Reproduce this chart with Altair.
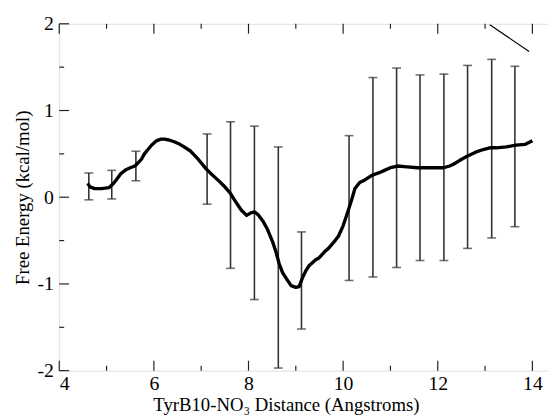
import altair as alt
import pandas as pd

# free-energy profile
curve_x = [4.60, 4.65, 4.75, 4.90, 5.05, 5.15, 5.22, 5.30, 5.39, 5.50, 5.60, 5.67, 5.74, 5.80,
           5.875, 5.95, 6.05, 6.15, 6.22, 6.32, 6.43, 6.55, 6.64, 6.78, 6.95, 7.10, 7.19, 7.35,
           7.50, 7.61, 7.75, 7.85, 7.96, 8.05, 8.13, 8.20, 8.31, 8.40, 8.50, 8.58, 8.65, 8.72,
           8.79, 8.90, 9.00, 9.07, 9.14, 9.21, 9.28, 9.42, 9.49, 9.625, 9.69, 9.83, 9.90, 10.00,
           10.11, 10.18, 10.25, 10.35, 10.46, 10.60, 10.75, 10.875, 11.00, 11.15, 11.35, 11.57,
           11.85, 12.125, 12.25, 12.33, 12.45, 12.61, 12.80, 12.96, 13.10, 13.24, 13.45, 13.65,
           13.85, 14.00]
curve_y = [0.16, 0.12, 0.10, 0.10, 0.11, 0.16, 0.21, 0.27, 0.31, 0.34, 0.36, 0.40, 0.44, 0.50,
           0.55, 0.60, 0.65, 0.67, 0.67, 0.66, 0.64, 0.61, 0.58, 0.53, 0.43, 0.33, 0.28, 0.20,
           0.12, 0.05, -0.07, -0.15, -0.21, -0.18, -0.17, -0.20, -0.28, -0.37, -0.50, -0.63, -0.77, -0.87,
           -0.93, -1.02, -1.04, -1.03, -0.93, -0.85, -0.79, -0.72, -0.70, -0.62, -0.59, -0.50, -0.45, -0.33,
           -0.15, -0.03, 0.10, 0.17, 0.20, 0.25, 0.28, 0.31, 0.34, 0.36, 0.35, 0.34,
           0.34, 0.34, 0.36, 0.38, 0.42, 0.47, 0.52, 0.55, 0.57, 0.57, 0.58, 0.60,
           0.61, 0.65]

# error bars
err_x = [4.625, 5.11, 5.62, 7.125, 7.62, 8.125, 8.63, 9.12, 10.125, 10.63, 11.13, 11.625, 12.13, 12.63, 13.14, 13.63]
err_lo = [-0.03, -0.02, 0.19, -0.08, -0.82, -1.18, -1.97, -1.52, -0.96, -0.92, -0.81, -0.73, -0.73, -0.59, -0.47, -0.34]
err_hi = [0.28, 0.31, 0.53, 0.73, 0.87, 0.82, 0.58, -0.40, 0.71, 1.38, 1.49, 1.41, 1.42, 1.52, 1.59, 1.51]

# stray segment at top right
seg_x = [13.10, 13.93]
seg_y = [1.99, 1.68]

x_major = [4, 6, 8, 10, 12, 14]
x_minor = [5, 7, 9, 11, 13]
y_major = [-2, -1, 0, 1, 2]
y_minor = [-1.5, -0.5, 0.5, 1.5]

W, H = 496, 352
FONT = "Liberation Serif"

xs = alt.Scale(domain=[4, 14.33], nice=False, zero=False)
ys = alt.Scale(domain=[-2, 2], nice=False, zero=False)

curve = pd.DataFrame({"x": curve_x, "y": curve_y})
errs = pd.DataFrame({"x": err_x, "lo": err_lo, "hi": err_hi})
seg = pd.DataFrame({"x": seg_x, "y": seg_y})

line = alt.Chart(curve).mark_line(color="black", strokeWidth=3.4, strokeJoin="round").encode(
    x=alt.X("x:Q", scale=xs,
            axis=alt.Axis(values=x_major, labelExpr="'' + datum.value", ticks=False, tickSize=0,
                          labelPadding=3, grid=False, domain=False, labelFont=FONT,
                          labelFontSize=20, labelColor="black",
                          title="TyrB10-NO\u2083 Distance (Angstroms)", titleFont=FONT,
                          titleFontSize=19, titleFontWeight="normal", titleColor="black",
                          titleX=230, titleY=40, titleBaseline="alphabetic")),
    y=alt.Y("y:Q", scale=ys,
            axis=alt.Axis(values=y_major, labelExpr="'' + datum.value", ticks=False, tickSize=0,
                          labelPadding=6, grid=False, domain=False, labelFont=FONT,
                          labelFontSize=20, labelColor="black",
                          title="Free Energy (kcal/mol)", titleFont=FONT, titleFontSize=19,
                          titleFontWeight="normal", titleColor="black", titleX=-37,
                          titleBaseline="middle")),
)

ERRC = "#333333"
bars = alt.Chart(errs).mark_rule(color=ERRC, strokeWidth=1.6).encode(
    x=alt.X("x:Q", scale=xs), y=alt.Y("lo:Q", scale=ys), y2="hi:Q")
cap_lo = alt.Chart(errs).mark_tick(color=ERRC, orient="horizontal", size=9, thickness=1.6).encode(
    x=alt.X("x:Q", scale=xs), y=alt.Y("lo:Q", scale=ys))
cap_hi = alt.Chart(errs).mark_tick(color=ERRC, orient="horizontal", size=9, thickness=1.6).encode(
    x=alt.X("x:Q", scale=xs), y=alt.Y("hi:Q", scale=ys))

segment = alt.Chart(seg).mark_line(color="black", strokeWidth=1.2).encode(
    x=alt.X("x:Q", scale=xs), y=alt.Y("y:Q", scale=ys))

TC = "#222222"
def xticks(vals, length):
    df = pd.DataFrame({"v": vals})
    b = alt.Chart(df).mark_rule(color=TC, strokeWidth=1.2).encode(
        x=alt.X("v:Q", scale=xs), y=alt.value(H), y2=alt.value(H - length))
    t = alt.Chart(df).mark_rule(color=TC, strokeWidth=1.2).encode(
        x=alt.X("v:Q", scale=xs), y=alt.value(0), y2=alt.value(length))
    return [b, t]

def yticks(vals, length):
    df = pd.DataFrame({"v": vals})
    return [alt.Chart(df).mark_rule(color=TC, strokeWidth=1.2).encode(
        y=alt.Y("v:Q", scale=ys), x=alt.value(0), x2=alt.value(length))]

tick_layers = xticks(x_major, 10) + xticks(x_minor, 5) + yticks(y_major, 10) + yticks(y_minor, 5)

chart = alt.layer(*tick_layers, bars, cap_lo, cap_hi, line, segment).properties(
    width=W, height=H,
    autosize=alt.AutoSizeParams(type="none"),
    padding={"left": 52, "top": 13, "right": 0, "bottom": 44},
).configure_view(stroke="#222222", strokeWidth=1.5).configure(background="white")

chart.save("out.html", embed_options={"renderer": "svg", "actions": False})
